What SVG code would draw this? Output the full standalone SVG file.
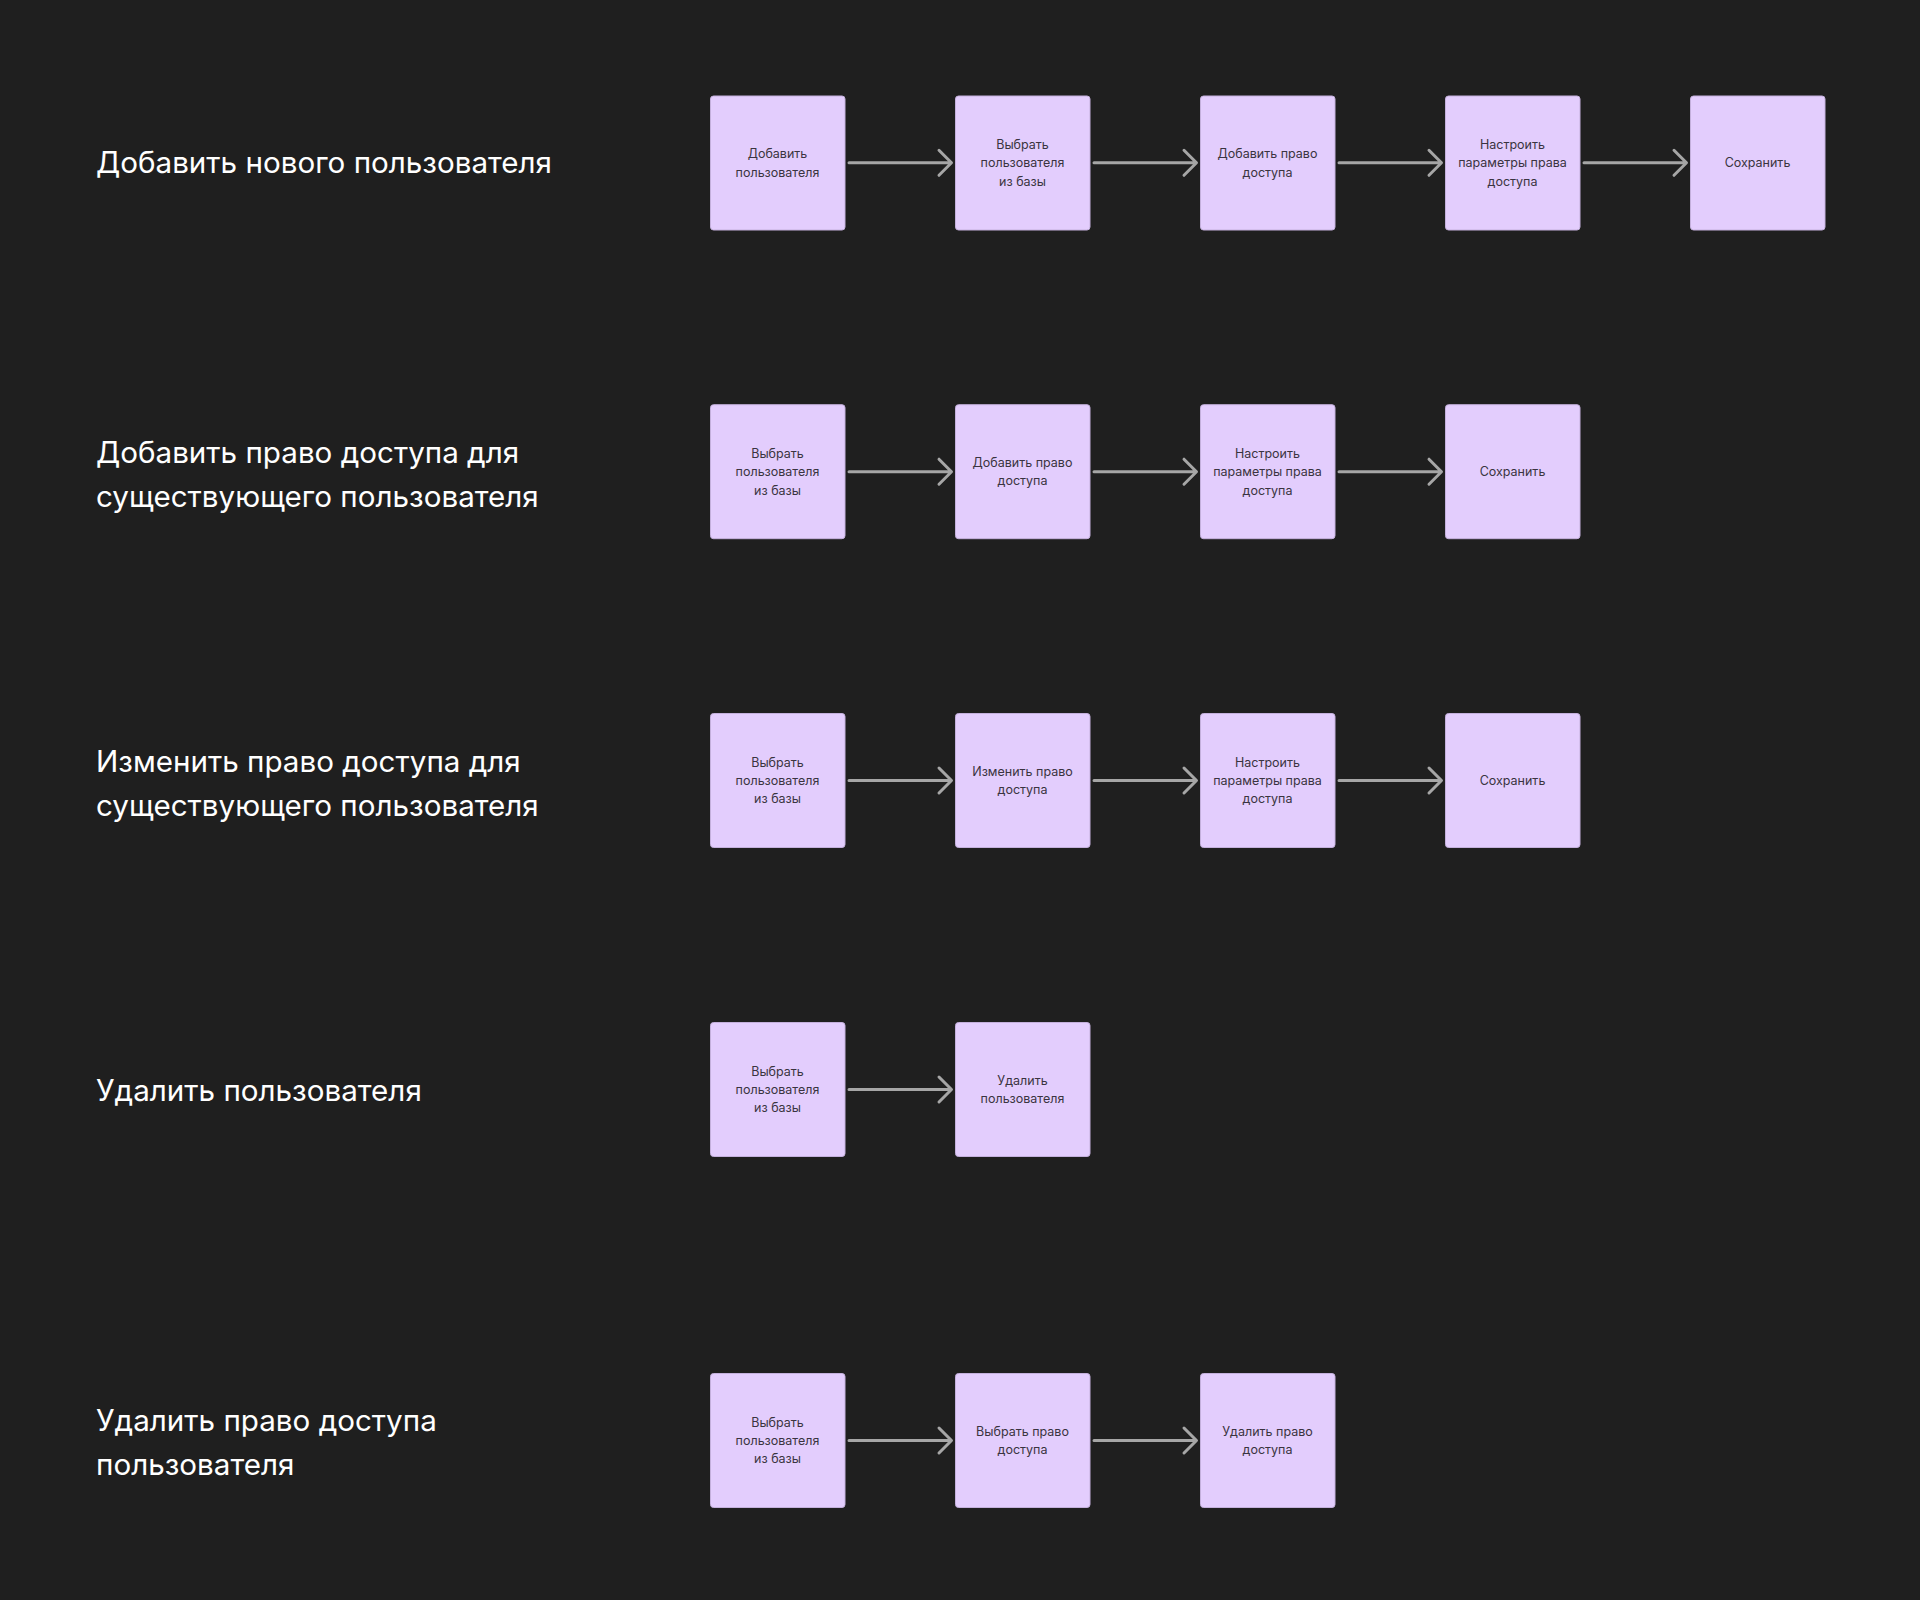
<svg xmlns="http://www.w3.org/2000/svg" width="1920" height="1600" viewBox="0 0 1920 1600">
<defs>
<style>
.bg{fill:#1f1f1f}
.title{font-family:Inter,"Noto Sans","Liberation Sans",sans-serif;font-size:29.6px;fill:#ffffff}
.box{fill:#e3cdfd;stroke:#c4b0dc;stroke-width:1}
.lbl{font-family:Inter,"Noto Sans","Liberation Sans",sans-serif;font-size:12.5px;fill:#3a3440;text-anchor:middle}
.edge{stroke:#a6a6a6;stroke-width:3;fill:none;stroke-linecap:round;stroke-linejoin:round}
</style>
</defs>
<rect class="bg" x="0" y="0" width="1920" height="1600"/>

<g id="titles">
<text id="t1" class="title" x="96" y="173">Добавить нового пользователя</text>
<text id="t2" class="title"><tspan x="96" y="463">Добавить право доступа для</tspan><tspan x="96" y="507">существующего пользователя</tspan></text>
<text id="t3" class="title"><tspan x="96" y="772">Изменить право доступа для</tspan><tspan x="96" y="816">существующего пользователя</tspan></text>
<text id="t4" class="title" x="96" y="1101">Удалить пользователя</text>
<text id="t5" class="title"><tspan x="96" y="1431">Удалить право доступа</tspan><tspan x="96" y="1475">пользователя</tspan></text>
</g>

<g id="connectors">
<path class="edge" d="M849 162.8H951M939 150.3L951.5 162.8L939 175.3"/>
<path class="edge" d="M1094 162.8H1196M1184 150.3L1196.5 162.8L1184 175.3"/>
<path class="edge" d="M1339 162.8H1441M1429 150.3L1441.5 162.8L1429 175.3"/>
<path class="edge" d="M1584 162.8H1686M1674 150.3L1686.5 162.8L1674 175.3"/>
<path class="edge" d="M849 471.7H951M939 459.2L951.5 471.7L939 484.2"/>
<path class="edge" d="M1094 471.7H1196M1184 459.2L1196.5 471.7L1184 484.2"/>
<path class="edge" d="M1339 471.7H1441M1429 459.2L1441.5 471.7L1429 484.2"/>
<path class="edge" d="M849 780.5H951M939 768L951.5 780.5L939 793"/>
<path class="edge" d="M1094 780.5H1196M1184 768L1196.5 780.5L1184 793"/>
<path class="edge" d="M1339 780.5H1441M1429 768L1441.5 780.5L1429 793"/>
<path class="edge" d="M849 1089.5H951M939 1077L951.5 1089.5L939 1102"/>
<path class="edge" d="M849 1440.5H951M939 1428L951.5 1440.5L939 1453"/>
<path class="edge" d="M1094 1440.5H1196M1184 1428L1196.5 1440.5L1184 1453"/>
</g>

<g id="r1n1"><rect class="box" x="710.5" y="96" width="134.5" height="134" rx="3"/><text class="lbl"><tspan x="777.5" y="158">Добавить</tspan><tspan x="777.5" y="176.5">пользователя</tspan></text></g>
<g id="r1n2"><rect class="box" x="955.5" y="96" width="134.5" height="134" rx="3"/><text class="lbl"><tspan x="1022.5" y="149">Выбрать</tspan><tspan x="1022.5" y="167.3">пользователя</tspan><tspan x="1022.5" y="185.6">из базы</tspan></text></g>
<g id="r1n3"><rect class="box" x="1200.5" y="96" width="134.5" height="134" rx="3"/><text class="lbl"><tspan x="1267.5" y="158">Добавить право</tspan><tspan x="1267.5" y="176.5">доступа</tspan></text></g>
<g id="r1n4"><rect class="box" x="1445.5" y="96" width="134.5" height="134" rx="3"/><text class="lbl"><tspan x="1512.5" y="149">Настроить</tspan><tspan x="1512.5" y="167.3">параметры права</tspan><tspan x="1512.5" y="185.6">доступа</tspan></text></g>
<g id="r1n5"><rect class="box" x="1690.5" y="96" width="134.5" height="134" rx="3"/><text class="lbl"><tspan x="1757.5" y="167.3">Сохранить</tspan></text></g>

<g id="r2n1"><rect class="box" x="710.5" y="404.7" width="134.5" height="134" rx="3"/><text class="lbl"><tspan x="777.5" y="457.9">Выбрать</tspan><tspan x="777.5" y="476.2">пользователя</tspan><tspan x="777.5" y="494.5">из базы</tspan></text></g>
<g id="r2n2"><rect class="box" x="955.5" y="404.7" width="134.5" height="134" rx="3"/><text class="lbl"><tspan x="1022.5" y="466.9">Добавить право</tspan><tspan x="1022.5" y="485.4">доступа</tspan></text></g>
<g id="r2n3"><rect class="box" x="1200.5" y="404.7" width="134.5" height="134" rx="3"/><text class="lbl"><tspan x="1267.5" y="457.9">Настроить</tspan><tspan x="1267.5" y="476.2">параметры права</tspan><tspan x="1267.5" y="494.5">доступа</tspan></text></g>
<g id="r2n4"><rect class="box" x="1445.5" y="404.7" width="134.5" height="134" rx="3"/><text class="lbl"><tspan x="1512.5" y="476.2">Сохранить</tspan></text></g>

<g id="r3n1"><rect class="box" x="710.5" y="713.5" width="134.5" height="134" rx="3"/><text class="lbl"><tspan x="777.5" y="766.7">Выбрать</tspan><tspan x="777.5" y="785">пользователя</tspan><tspan x="777.5" y="803.3">из базы</tspan></text></g>
<g id="r3n2"><rect class="box" x="955.5" y="713.5" width="134.5" height="134" rx="3"/><text class="lbl"><tspan x="1022.5" y="775.7">Изменить право</tspan><tspan x="1022.5" y="794.2">доступа</tspan></text></g>
<g id="r3n3"><rect class="box" x="1200.5" y="713.5" width="134.5" height="134" rx="3"/><text class="lbl"><tspan x="1267.5" y="766.7">Настроить</tspan><tspan x="1267.5" y="785">параметры права</tspan><tspan x="1267.5" y="803.3">доступа</tspan></text></g>
<g id="r3n4"><rect class="box" x="1445.5" y="713.5" width="134.5" height="134" rx="3"/><text class="lbl"><tspan x="1512.5" y="785">Сохранить</tspan></text></g>

<g id="r4n1"><rect class="box" x="710.5" y="1022.5" width="134.5" height="134" rx="3"/><text class="lbl"><tspan x="777.5" y="1075.7">Выбрать</tspan><tspan x="777.5" y="1094">пользователя</tspan><tspan x="777.5" y="1112.3">из базы</tspan></text></g>
<g id="r4n2"><rect class="box" x="955.5" y="1022.5" width="134.5" height="134" rx="3"/><text class="lbl"><tspan x="1022.5" y="1084.7">Удалить</tspan><tspan x="1022.5" y="1103.2">пользователя</tspan></text></g>

<g id="r5n1"><rect class="box" x="710.5" y="1373.5" width="134.5" height="134" rx="3"/><text class="lbl"><tspan x="777.5" y="1426.7">Выбрать</tspan><tspan x="777.5" y="1445">пользователя</tspan><tspan x="777.5" y="1463.3">из базы</tspan></text></g>
<g id="r5n2"><rect class="box" x="955.5" y="1373.5" width="134.5" height="134" rx="3"/><text class="lbl"><tspan x="1022.5" y="1435.7">Выбрать право</tspan><tspan x="1022.5" y="1454.2">доступа</tspan></text></g>
<g id="r5n3"><rect class="box" x="1200.5" y="1373.5" width="134.5" height="134" rx="3"/><text class="lbl"><tspan x="1267.5" y="1435.7">Удалить право</tspan><tspan x="1267.5" y="1454.2">доступа</tspan></text></g>
</svg>
